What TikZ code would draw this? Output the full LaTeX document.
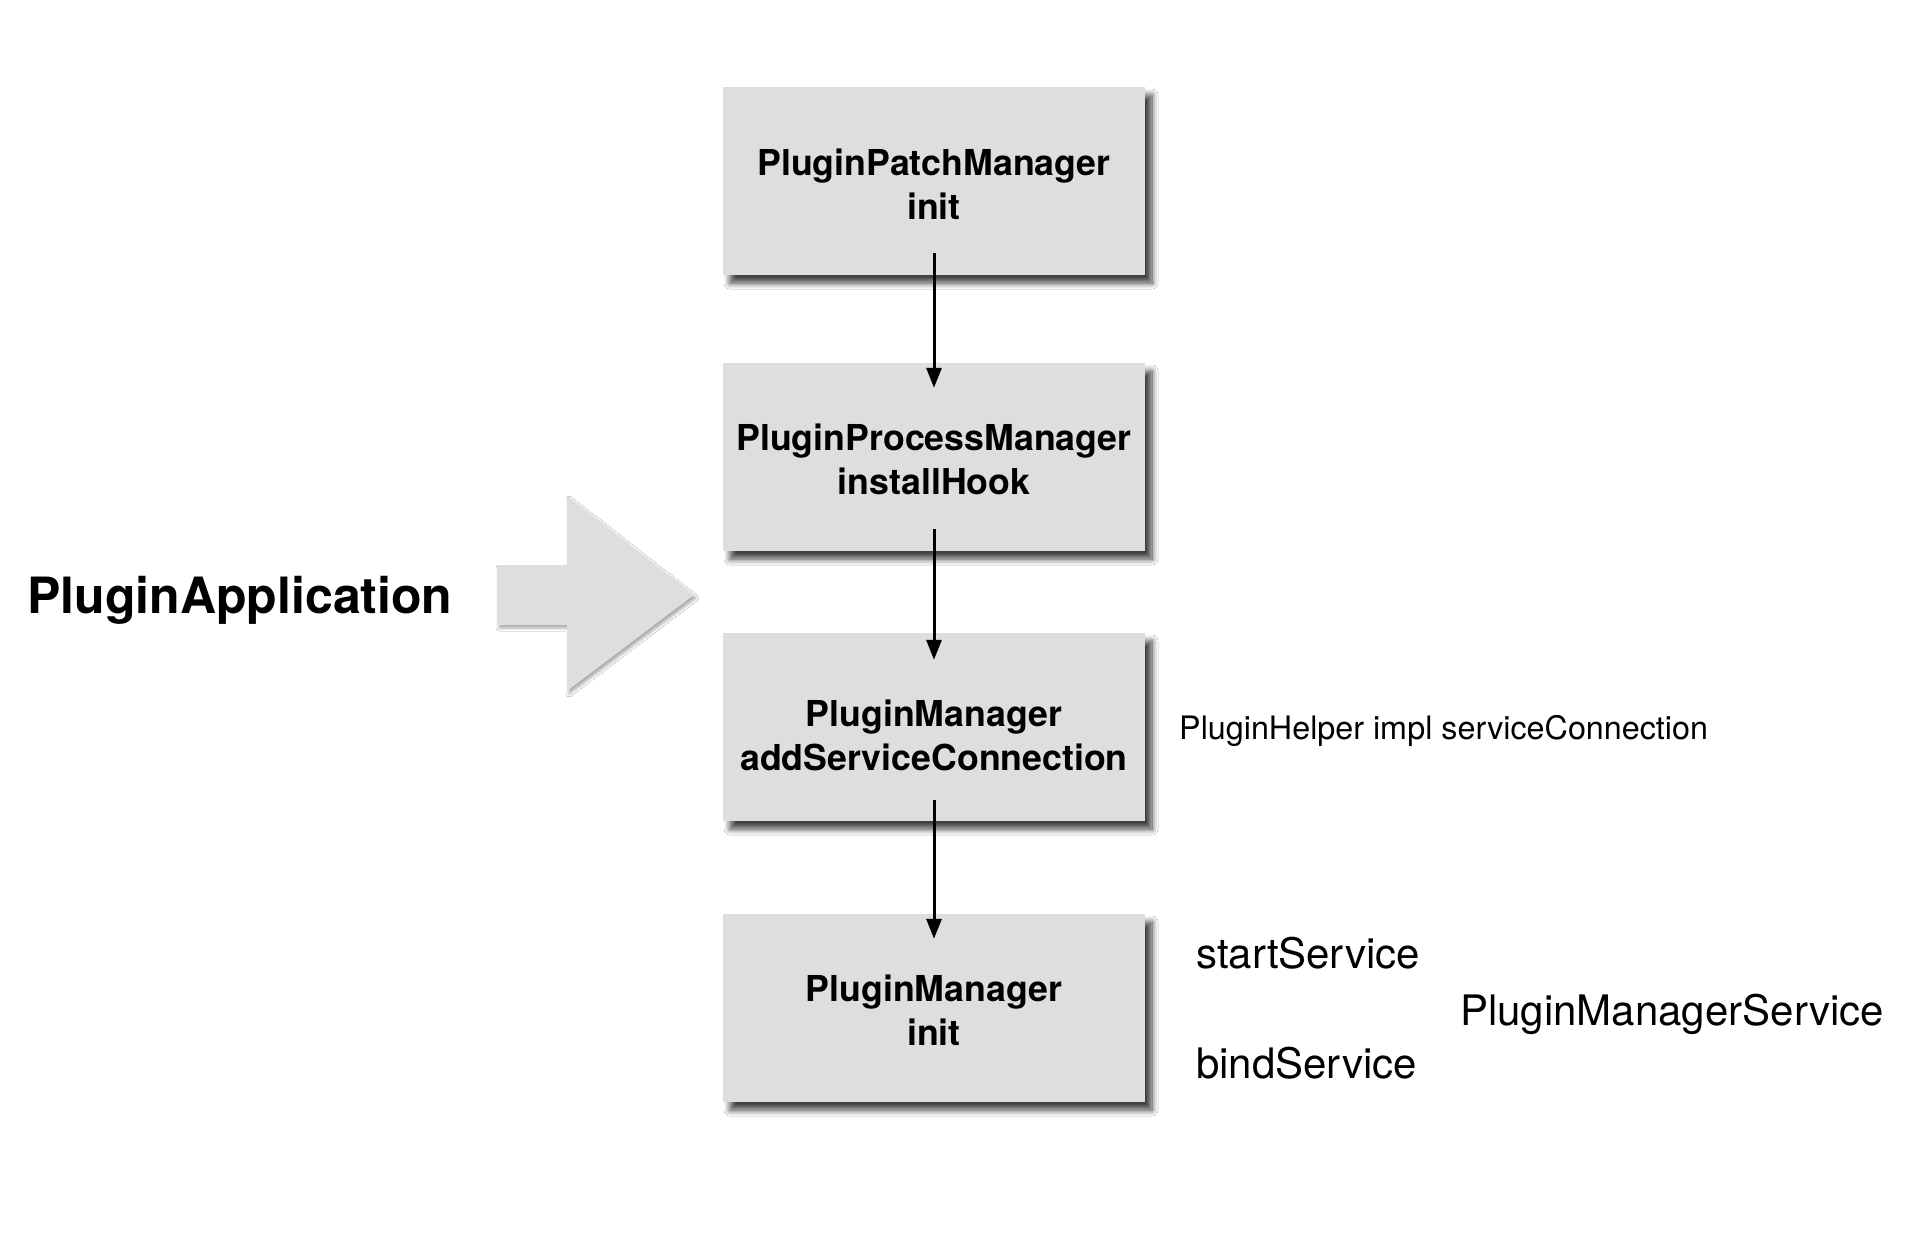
\documentclass[tikz,border=0pt]{standalone}
\usepackage{fontspec}
\setmainfont{TeX Gyre Heros}
\usetikzlibrary{arrows.meta,shadows.blur}
\definecolor{boxgray}{HTML}{DDDEDF}
\begin{document}
\begin{tikzpicture}[x=1pt,y=-1pt,
  stepbox/.style={fill=boxgray, minimum width=422pt, minimum height=188pt, inner sep=0pt,
    blur shadow={shadow xshift=7pt, shadow yshift=-8pt, shadow blur radius=6pt, shadow blur steps=10, shadow opacity=75}},
  boxtext/.style={inner sep=0pt, align=center, font=\fontsize{35.7}{44}\selectfont\bfseries},
  flow/.style={line width=3pt, -{Triangle[length=20pt,width=15pt]}},
  biglabel/.style={font=\fontsize{50}{60}\selectfont\bfseries, inner sep=0pt},
  sidelabel/.style={font=\fontsize{42}{50}\selectfont, inner sep=0pt, anchor=west},
  smalllabel/.style={font=\fontsize{32.3}{40}\selectfont, inner sep=0pt, anchor=west},
  bigarrow/.style={fill=boxgray, blur shadow={shadow xshift=2pt, shadow yshift=-3pt, shadow blur radius=3pt, shadow blur steps=6, shadow opacity=35}}
]
\useasboundingbox (0,0) rectangle (1920,1258);
\fill[white] (0,0) rectangle (1920,1258);

\node[stepbox] (b1) at (934,181) {};
\node[stepbox] (b2) at (934,457) {};
\node[stepbox] (b3) at (934,727) {};
\node[stepbox] (b4) at (934,1008) {};

\node[boxtext] (t1) at (934,184) {PluginPatchManager\\init};
\node[boxtext] (t2) at (934,459) {PluginProcessManager\\installHook};
\node[boxtext] (t3) at (934,735) {PluginManager\\addServiceConnection};
\node[boxtext] (t4) at (934,1010) {PluginManager\\init};

\draw[flow] ([yshift=22pt]b1.south) -- ([yshift=-25pt]b2.north);
\draw[flow] ([yshift=22pt]b2.south) -- ([yshift=-27pt]b3.north);
\draw[flow] ([yshift=21pt]b3.south) -- ([yshift=-25pt]b4.north);

\node[biglabel] (app) at (240,600) {PluginApplication};
\fill[bigarrow] (497,565) -- (567,565) -- (567,496) -- (694,595) -- (567,691) -- (567,625) -- (497,625) -- cycle;

\node[smalllabel] (helper) at (1179,731) {PluginHelper impl serviceConnection};
\node[sidelabel] (start) at (1196,953) {startService};
\node[sidelabel] (bind) at (1196,1063) {bindService};
\node[sidelabel] (pms) at (1460,1014) {PluginManagerService};
\end{tikzpicture}
\end{document}
